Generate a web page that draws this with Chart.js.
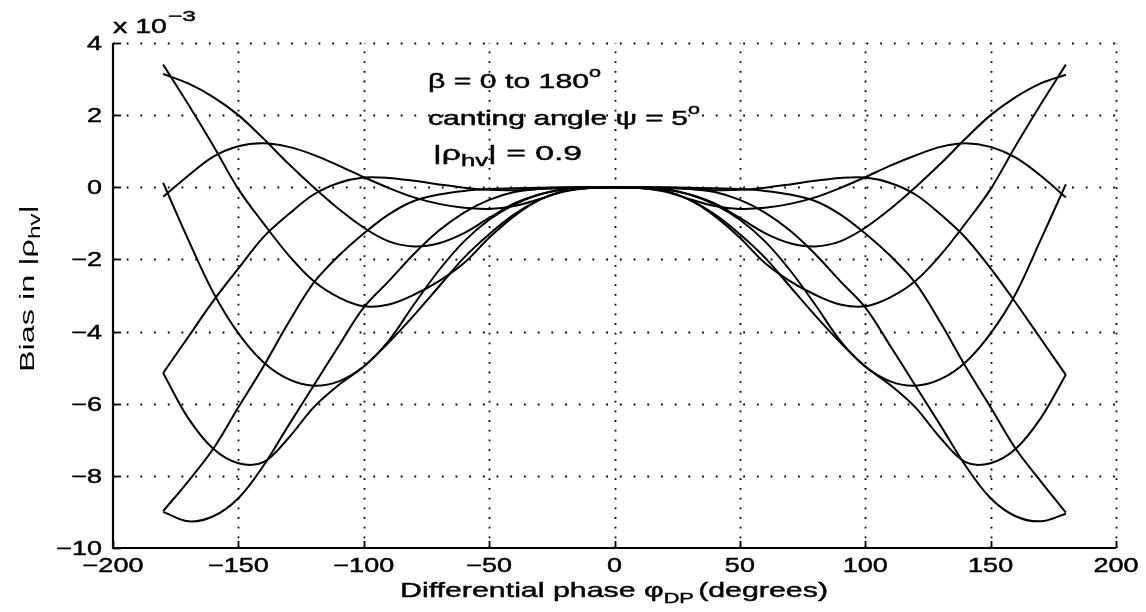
<!DOCTYPE html>
<html><head><meta charset="utf-8">
<script src="https://cdn.jsdelivr.net/npm/chart.js@4.4.1/dist/chart.umd.min.js"></script>
<style>html,body{margin:0;padding:0;background:#fff;}#wrap{width:1146px;height:612px;}</style>
</head><body><div id="wrap"><canvas id="c" width="1146" height="612"></canvas></div>
<script>
// Differential phase (degrees)
const phi = [-180,-170,-160,-150,-140,-130,-120,-110,-100,-90,-80,-70,-60,-50,-40,-30,-20,-10,0,10,20,30,40,50,60,70,80,90,100,110,120,130,140,150,160,170,180];
// Bias in |rho_hv| (x 10^-3), one array per beta value
const curveA = [3.4,2.3,1.15,-0.05,-1.0,-1.88,-2.6,-3.05,-3.3,-3.25,-2.98,-2.6,-2.1,-1.4,-0.8,-0.35,-0.1,-0.02,0,-0.02,-0.1,-0.35,-0.8,-1.4,-2.1,-2.6,-2.98,-3.25,-3.3,-3.05,-2.6,-1.88,-1.0,-0.05,1.15,2.3,3.4];
const curveB = [3.14,2.88,2.5,2.0,1.35,0.65,0.0,-0.6,-1.12,-1.5,-1.64,-1.55,-1.27,-0.85,-0.45,-0.2,-0.05,0,0,0,-0.05,-0.2,-0.45,-0.85,-1.27,-1.55,-1.64,-1.5,-1.12,-0.6,0.0,0.65,1.35,2.0,2.5,2.88,3.12];
const curveC = [-0.26,0.32,0.85,1.14,1.22,1.12,0.9,0.6,0.28,-0.02,-0.28,-0.46,-0.57,-0.6,-0.52,-0.33,-0.12,-0.02,0,-0.02,-0.12,-0.33,-0.52,-0.6,-0.57,-0.46,-0.28,-0.02,0.28,0.6,0.88,1.12,1.22,1.12,0.82,0.32,-0.28];
const curveD = [0.12,-1.45,-2.92,-4.05,-4.85,-5.32,-5.5,-5.38,-4.97,-4.25,-3.25,-2.3,-1.5,-0.9,-0.48,-0.2,-0.06,-0.01,0,-0.01,-0.06,-0.2,-0.48,-0.9,-1.5,-2.3,-3.25,-4.25,-4.97,-5.38,-5.5,-5.32,-4.85,-4.05,-2.95,-1.45,0.08];
const curveE = [-5.15,-4.15,-3.15,-2.25,-1.38,-0.75,-0.2,0.12,0.27,0.26,0.18,0.08,-0.01,-0.07,-0.08,-0.05,-0.02,0,0,0,-0.02,-0.05,-0.08,-0.07,-0.01,0.08,0.18,0.26,0.27,0.12,-0.2,-0.75,-1.4,-2.25,-3.2,-4.2,-5.2];
const curveF = [-5.15,-6.4,-7.25,-7.65,-7.62,-6.95,-6.1,-5.48,-4.97,-4.3,-3.55,-2.75,-1.95,-1.3,-0.75,-0.35,-0.1,-0.02,0,-0.02,-0.1,-0.35,-0.75,-1.3,-1.95,-2.75,-3.55,-4.3,-4.97,-5.48,-6.1,-6.95,-7.62,-7.65,-7.25,-6.4,-5.2];
const curveG = [-8.98,-8.15,-7.25,-6.1,-4.97,-3.75,-2.65,-1.9,-1.28,-0.75,-0.38,-0.2,-0.1,-0.05,-0.03,-0.01,0,0,0,0,0,-0.01,-0.03,-0.05,-0.1,-0.2,-0.38,-0.75,-1.28,-1.9,-2.65,-3.75,-4.97,-6.1,-7.25,-8.15,-9.02];
const curveH = [-9.0,-9.26,-9.12,-8.62,-7.72,-6.6,-5.5,-4.4,-3.33,-2.6,-1.85,-1.2,-0.7,-0.35,-0.13,-0.04,-0.01,0,0,0,-0.01,-0.04,-0.13,-0.35,-0.7,-1.2,-1.85,-2.6,-3.33,-4.4,-5.5,-6.6,-7.72,-8.62,-9.12,-9.26,-9.05];
const curves = [curveA,curveB,curveC,curveD,curveE,curveF,curveG,curveH];
const xTicks = [-200,-150,-100,-50,0,50,100,150,200];
const yTicks = [-10,-8,-6,-4,-2,0,2,4];

const FONT = '"Liberation Sans", Arial, Helvetica, sans-serif';
const fmt = v => (v < 0 ? '\u2212' + Math.abs(v) : String(v));
const SX = 1.35; // glyph width stretch seen in the reference

function partsWidth(ctx, parts) {
  let w = 0;
  parts.forEach(p => { ctx.font = p.size + 'px ' + FONT; w += ctx.measureText(p.t).width + (p.gap || 0); });
  return w;
}
function drawParts(ctx, parts, stroke) {
  let xx = 0;
  parts.forEach(p => {
    ctx.font = p.size + 'px ' + FONT;
    ctx.fillText(p.t, xx, p.dy || 0);
    if (stroke) ctx.strokeText(p.t, xx, p.dy || 0);
    xx += ctx.measureText(p.t).width + (p.gap || 0);
  });
}
function fitText(ctx, parts, x0, x1, base) {
  const w = partsWidth(ctx, parts);
  ctx.save();
  ctx.translate(x0, base);
  ctx.scale((x1 - x0) / w, 1);
  drawParts(ctx, parts, true);
  ctx.restore();
}

const decor = {
  id: 'decor',
  beforeDatasetsDraw(chart) {
    const {ctx, scales: {x, y}} = chart;
    const L = x.getPixelForValue(-200), R = x.getPixelForValue(200);
    const T = y.getPixelForValue(4), B = y.getPixelForValue(-10);
    ctx.save();
    ctx.strokeStyle = '#000';
    ctx.lineWidth = 1.8;
    ctx.setLineDash([1.8, 7.9]);
    xTicks.forEach(v => { if (v === -200) return; const px = Math.round(x.getPixelForValue(v)) + 0.5;
      ctx.beginPath(); ctx.moveTo(px, B); ctx.lineTo(px, T); ctx.stroke(); });
    ctx.setLineDash([1.8, 11.9]);
    yTicks.forEach(v => { if (v === -10) return; const py = Math.round(y.getPixelForValue(v)) + 0.5;
      ctx.beginPath(); ctx.moveTo(L, py); ctx.lineTo(R, py); ctx.stroke(); });
    ctx.setLineDash([]);
    ctx.lineWidth = 2.2;
    ctx.beginPath(); ctx.moveTo(L, T); ctx.lineTo(L, B); ctx.lineTo(R, B); ctx.stroke();
    ctx.lineWidth = 1.8;
    xTicks.forEach(v => { const px = Math.round(x.getPixelForValue(v)) + 0.5;
      ctx.beginPath(); ctx.moveTo(px, B); ctx.lineTo(px, B - 7); ctx.stroke(); });
    yTicks.forEach(v => { const py = Math.round(y.getPixelForValue(v)) + 0.5;
      ctx.beginPath(); ctx.moveTo(L, py); ctx.lineTo(L + 8, py); ctx.stroke(); });
    ctx.restore();
  },
  afterDraw(chart) {
    const {ctx, scales: {x, y}} = chart;
    const L = x.getPixelForValue(-200), B = y.getPixelForValue(-10);
    ctx.save();
    ctx.fillStyle = '#000';
    ctx.strokeStyle = '#000';
    ctx.lineWidth = 0.45;
    ctx.textBaseline = 'alphabetic';
    ctx.textAlign = 'left';
    ctx.font = '20px ' + FONT;
    xTicks.forEach(v => {
      const s = fmt(v), w = ctx.measureText(s).width * SX;
      const px = x.getPixelForValue(v);
      ctx.save(); ctx.translate(px - w / 2, B + 24); ctx.scale(SX, 1); ctx.fillText(s, 0, 0); ctx.strokeText(s, 0, 0); ctx.restore();
    });
    yTicks.forEach(v => {
      const s = fmt(v), w = ctx.measureText(s).width * SX;
      const py = y.getPixelForValue(v);
      ctx.save(); ctx.translate(L - 11 - w, py + 7); ctx.scale(SX, 1); ctx.fillText(s, 0, 0); ctx.strokeText(s, 0, 0); ctx.restore();
    });
    fitText(ctx, [{t: 'x 10', size: 20}], 113, 167, 33);
    fitText(ctx, [{t: '\u22123', size: 15}], 168, 196, 21);
    fitText(ctx, [{t: '\u03b2 = 0 to 180', size: 21}, {t: 'o', size: 15, dy: -11}], 428, 601, 88);
    fitText(ctx, [{t: 'canting angle \u03c8 = 5', size: 21}, {t: 'o', size: 15, dy: -11}], 428, 700, 125);
    fitText(ctx, [{t: '|\u03c1', size: 21}, {t: 'hv', size: 16, dy: 6}, {t: '| = 0.9', size: 21}], 433, 582, 160);
    fitText(ctx, [{t: 'Differential phase \u03c6', size: 21}, {t: 'DP', size: 15, dy: 6, gap: 3}, {t: '(degrees)', size: 21}], 400, 828, 597);
    const yparts = [{t: 'Bias in |\u03c1', size: 20}, {t: 'hv', size: 15, dy: 6}, {t: '|', size: 20}];
    const w = partsWidth(ctx, yparts);
    ctx.save();
    ctx.translate(34, 372);
    ctx.rotate(-Math.PI / 2);
    ctx.scale(167 / w, 1.05);
    drawParts(ctx, yparts, false);
    ctx.restore();
    ctx.restore();
  }
};

new Chart(document.getElementById('c'), {
  type: 'scatter',
  data: {
    datasets: curves.map((arr, i) => ({
      label: 'beta ' + i,
      data: phi.map((p, k) => ({x: p, y: arr[k]})),
      showLine: true,
      borderColor: '#000',
      borderWidth: 2,
      pointRadius: 0,
      tension: 0.35,
      fill: false
    }))
  },
  options: {
    responsive: false,
    animation: false,
    events: [],
    layout: {padding: {left: 0, top: 43, right: 30, bottom: 0}},
    plugins: {legend: {display: false}, tooltip: {enabled: false}},
    scales: {
      x: {
        type: 'linear', min: -200, max: 200,
        afterBuildTicks: s => { s.ticks = xTicks.map(v => ({value: v})); },
        afterFit: s => { s.height = 64; },
        grid: {display: false, drawTicks: false},
        border: {display: false},
        ticks: {display: false}
      },
      y: {
        type: 'linear', min: -10, max: 4,
        afterBuildTicks: s => { s.ticks = yTicks.map(v => ({value: v})); },
        afterFit: s => { s.width = 113; },
        grid: {display: false, drawTicks: false},
        border: {display: false},
        ticks: {display: false}
      }
    }
  },
  plugins: [decor]
});
</script></body></html>
